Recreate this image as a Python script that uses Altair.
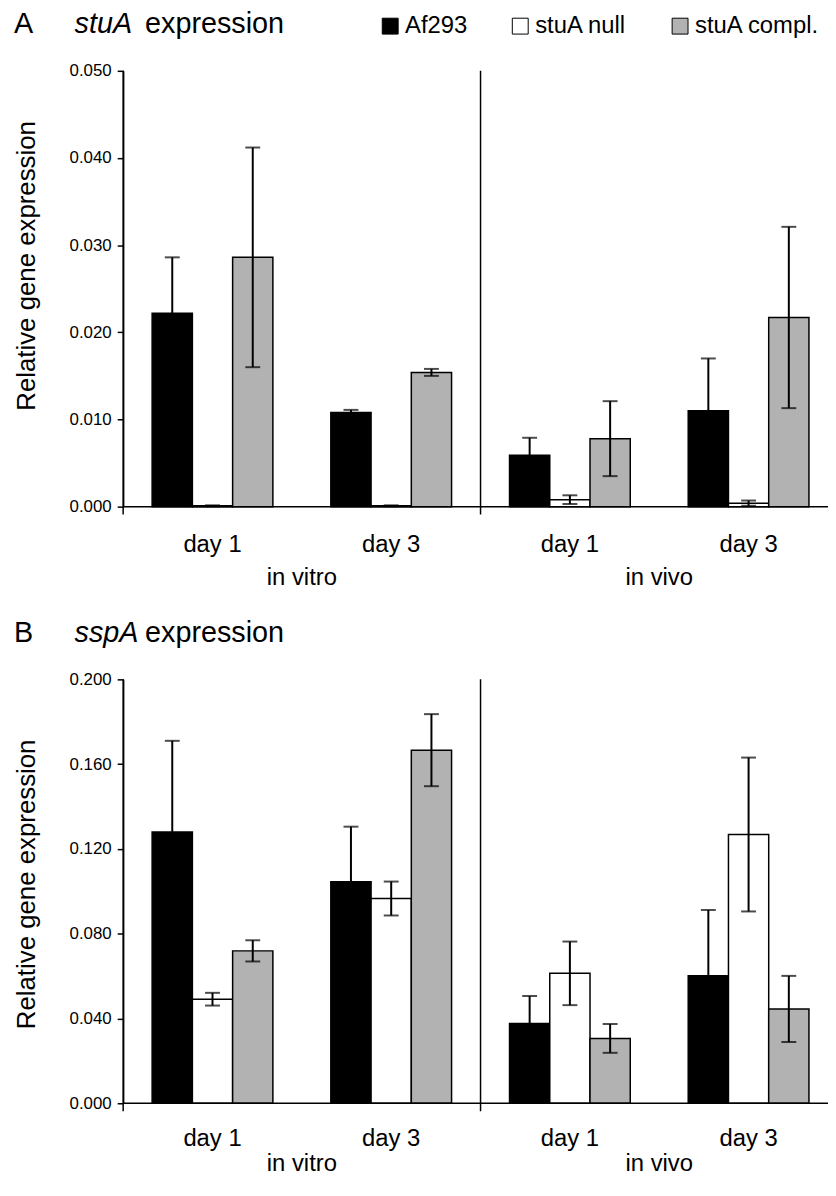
import altair as alt
import pandas as pd

FONT = "Liberation Sans"

strains = ["Af293", "stuA null", "stuA compl."]
strain_colors = ["#000000", "#ffffff", "#b2b2b2"]
groups = ["in vitro|day 1", "in vitro|day 3", "in vivo|day 1", "in vivo|day 3"]
regions = ["in vitro", "in vivo"]
region_anchor = ["in vitro|day 3", "in vivo|day 3"]
boundaries = ["in vitro|day 1", "in vivo|day 1"]

# Panel A: stuA expression (order: in vitro d1, in vitro d3, in vivo d1, in vivo d3)
stuA_af293 = [0.0222, 0.0108, 0.0059, 0.0110]
stuA_af293_err = [0.0064, 0.0003, 0.0020, 0.0060]
stuA_null = [0.0001, 0.0001, 0.0008, 0.0004]
stuA_null_err = [0.00005, 0.00005, 0.0005, 0.0003]
stuA_compl = [0.0286, 0.0154, 0.0078, 0.0217]
stuA_compl_err = [0.0126, 0.0004, 0.0043, 0.0104]
stuA_ticks = [0.0, 0.01, 0.02, 0.03, 0.04, 0.05]

# Panel B: sspA expression
sspA_af293 = [0.1280, 0.1045, 0.0376, 0.0602]
sspA_af293_err = [0.0430, 0.0260, 0.0130, 0.0310]
sspA_null = [0.0491, 0.0966, 0.0613, 0.1268]
sspA_null_err = [0.0030, 0.0080, 0.0150, 0.0363]
sspA_compl = [0.0719, 0.1666, 0.0306, 0.0445]
sspA_compl_err = [0.0050, 0.0170, 0.0068, 0.0156]
sspA_ticks = [0.0, 0.04, 0.08, 0.12, 0.16, 0.2]

title_A = ["A", "stuA", "expression"]
title_B = ["B", "sspA", "expression"]
y_title = "Relative gene expression"


def make_df(means, errs):
    rows = []
    for s, m, e in zip(strains, means, errs):
        for g, v, d in zip(groups, m, e):
            rows.append({"group": g, "strain": s, "value": v, "err": d})
    return pd.DataFrame(rows)


dfA = make_df([stuA_af293, stuA_null, stuA_compl],
              [stuA_af293_err, stuA_null_err, stuA_compl_err])
dfB = make_df([sspA_af293, sspA_null, sspA_compl],
              [sspA_af293_err, sspA_null_err, sspA_compl_err])

W = 712
XR = 720


def panel(df, ymax, yticks, H, title_parts, show_legend, title_y, lab_pad, reg_off):
    xs = alt.Scale(domain=groups, range=[0, XR], paddingInner=0, paddingOuter=0)
    xo = alt.Scale(domain=strains, paddingInner=0, paddingOuter=0.72)
    ys = alt.Scale(domain=[0, ymax], nice=False, zero=True)
    x_axis = alt.Axis(title=None, labelExpr="split(datum.value, '|')[1]",
                      labelAngle=0, ticks=False, domain=False, tickSize=0,
                      labelFontSize=24, labelPadding=lab_pad, labelFont=FONT,
                      labelColor="black")
    y_axis = alt.Axis(values=yticks, format=".3f", title=y_title, grid=False,
                      tickSize=6, tickColor="black", tickWidth=1.5,
                      domainColor="black", domainWidth=1.5,
                      labelFontSize=17, labelFont=FONT, labelColor="black",
                      labelPadding=6, titleFont=FONT, titleFontSize=26,
                      titleFontWeight="normal", titleColor="black",
                      titlePadding=30, titleY=title_y)
    X = alt.X("group:N", scale=xs, axis=x_axis, sort=groups)
    XO = alt.XOffset("strain:N", scale=xo, sort=strains)
    base = alt.Chart(df).transform_calculate(
        lo="max(datum.value - datum.err, 0)", hi="datum.value + datum.err")

    if show_legend:
        legend = alt.Legend(orient="none", legendX=257, legendY=-57,
                            direction="horizontal", title=None,
                            symbolType="square", symbolSize=256,
                            symbolStrokeColor="black", symbolStrokeWidth=1,
                            labelFontSize=24, labelFont=FONT,
                            labelColor="black", columnPadding=41,
                            labelOffset=3, padding=0)
    else:
        legend = None

    bars = base.mark_bar(stroke="black", strokeWidth=1.5).encode(
        x=X, xOffset=XO,
        y=alt.Y("value:Q", scale=ys, axis=y_axis),
        fill=alt.Fill("strain:N", scale=alt.Scale(domain=strains, range=strain_colors),
                      legend=legend),
    )
    whisk = base.mark_rule(color="black", strokeWidth=2).encode(
        x=X, xOffset=XO,
        y=alt.Y("lo:Q", scale=ys, axis=y_axis), y2="hi:Q")
    cap_hi = base.mark_tick(color="black", thickness=2, size=15,
                            orient="horizontal").encode(
        x=X, xOffset=XO, y=alt.Y("hi:Q", scale=ys, axis=y_axis))
    cap_lo = base.mark_tick(color="black", thickness=2, size=15,
                            orient="horizontal").encode(
        x=X, xOffset=XO, y=alt.Y("lo:Q", scale=ys, axis=y_axis))

    sep = alt.Chart(pd.DataFrame({"b": boundaries})).mark_rule(
        color="black", strokeWidth=1.5).encode(
        x=alt.X("b:N", scale=xs, axis=x_axis, bandPosition=0),
        y=alt.value(0), y2=alt.value(H + 8))

    one = pd.DataFrame({"k": [0]})
    baseline = alt.Chart(one).mark_rule(color="black", strokeWidth=1.5).encode(
        x=alt.value(0), x2=alt.value(W), y=alt.value(H))

    reg = alt.Chart(pd.DataFrame({"region": regions, "anchor": region_anchor})).mark_text(
        font=FONT, fontSize=24, baseline="alphabetic", align="center", color="black").encode(
        x=alt.X("anchor:N", scale=xs, axis=x_axis, bandPosition=0),
        y=alt.value(H + reg_off), text="region:N")

    t1 = alt.Chart(one).mark_text(font=FONT, fontSize=29, align="left",
                                  baseline="alphabetic", color="black").encode(
        x=alt.value(-110), y=alt.value(-38), text=alt.value(title_parts[0]))
    t2 = alt.Chart(one).mark_text(font=FONT, fontSize=29, align="left", fontStyle="italic",
                                  baseline="alphabetic", color="black").encode(
        x=alt.value(-49), y=alt.value(-38), text=alt.value(title_parts[1]))
    t3 = alt.Chart(one).mark_text(font=FONT, fontSize=29, align="left",
                                  baseline="alphabetic", color="black").encode(
        x=alt.value(22), y=alt.value(-38), text=alt.value(title_parts[2]))

    return alt.layer(bars, whisk, cap_hi, cap_lo, sep, baseline, reg, t1, t2, t3).properties(
        width=W, height=H)


pA = panel(dfA, 0.05, stuA_ticks, 439, title_A, True, 196, 26, 79)
pB = panel(dfB, 0.2, sspA_ticks, 427, title_B, False, 206, 24, 68)

chart = alt.VConcatChart(vconcat=[pA, pB], spacing=174, bounds="flush").resolve_scale(
    x="independent", y="independent", fill="independent", xOffset="independent"
).configure_view(stroke=None).properties(
    padding={"left": 5, "top": -2, "right": -10, "bottom": -2},
    background="white")

chart.save("out.html", embed_options={"renderer": "svg", "actions": False})
